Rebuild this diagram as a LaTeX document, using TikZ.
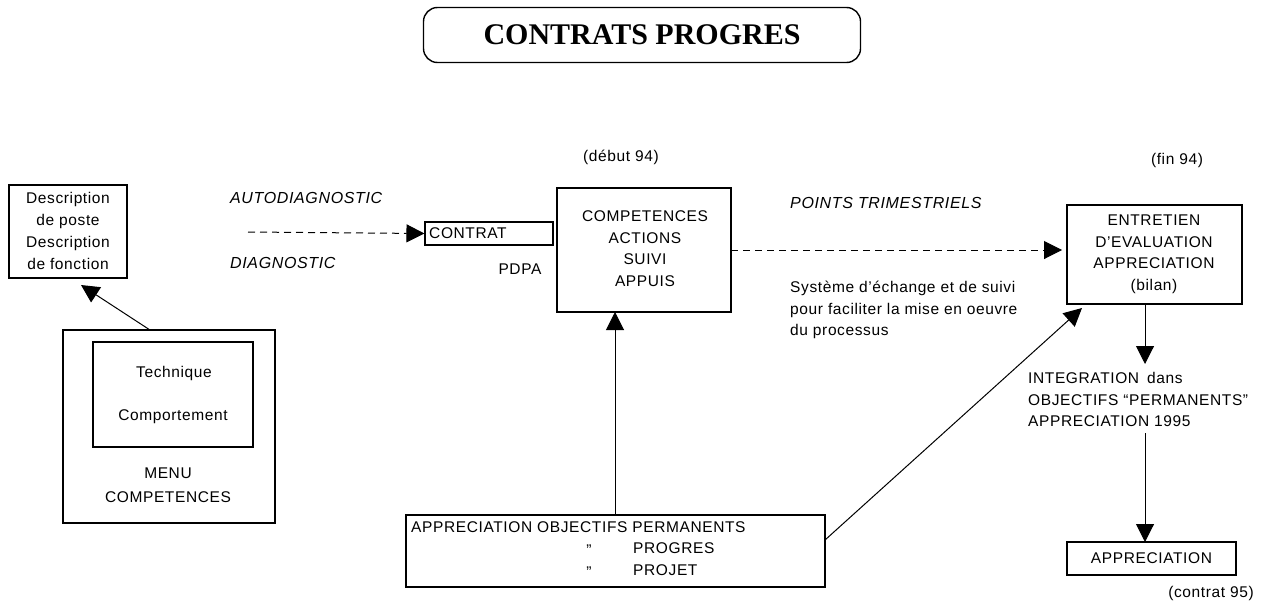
\documentclass[tikz,border=0pt]{standalone}
\usepackage{fontspec}
\setmainfont{Liberation Sans}[LetterSpace=4]
\newfontfamily\titlefont{Liberation Serif}
\usetikzlibrary{arrows.meta}
\tikzset{
  box/.style={draw,line width=1.1pt,inner sep=0pt},
  txt/.style={inner sep=0pt,font=\fontsize{15.5}{21.5}\selectfont,align=center},
  itxt/.style={inner sep=0pt,font=\fontsize{16}{21}\selectfont\itshape},
  conn/.style={line width=1pt,-{Triangle[length=18pt,width=18pt]}},
  dconn/.style={line width=1pt,dash pattern=on 7pt off 5pt,-{Triangle[length=18pt,width=18pt]}}
}
\begin{document}
\begin{tikzpicture}[x=1pt,y=-1pt]
\useasboundingbox (0,0) rectangle (1263,608);
% title
\node[draw,line width=1.4pt,rounded corners=14pt,minimum width=437pt,minimum height=55pt,inner sep=0pt,
  font=\titlefont\fontsize{30}{30}\selectfont\bfseries] (title) at (642,35) {CONTRATS PROGRES};
% description box
\node[box,minimum width=118pt,minimum height=93pt] (desc) at (68,231.5) {};
\node[txt,font=\fontsize{15.5}{21.7}\selectfont] (desct) at (68,231) {Description\\de poste\\Description\\de fonction};
% menu competences
\node[box,minimum width=212pt,minimum height=193pt] (menu) at (169,426.5) {};
\node[box,minimum width=160pt,minimum height=105pt] (menuin) at (173,394.5) {};
\node[txt] (tech) at (174,373) {Technique};
\node[txt] (comport) at (173,417) {Comportement};
\node[txt,font=\fontsize{15.5}{24}\selectfont] (menut) at (168,485) {MENU\\COMPETENCES};
% diagnostics
\node[itxt,anchor=west] (autod) at (230,198) {AUTODIAGNOSTIC};
\node[itxt,anchor=west] (diag) at (230,263) {DIAGNOSTIC};
% contrat
\node[box,minimum width=128pt,minimum height=23pt] (contrat) at (489,233.5) {};
\node[txt,anchor=west] (contratt) at (429,233.5) {CONTRAT};
\node[txt] (pdpa) at (520,269) {PDPA};
% competences
\node[box,minimum width=174pt,minimum height=124pt] (comp) at (644,250) {};
\node[txt] (compt) at (645,248.5) {COMPETENCES\\ACTIONS\\SUIVI\\APPUIS};
\node[txt] (debut) at (621,157) {(début 94)};
% points trimestriels
\node[itxt,anchor=west] (points) at (790,203) {POINTS TRIMESTRIELS};
\node[txt,align=left,anchor=west] (systeme) at (790,310) {Système d'échange et de suivi\\pour faciliter la mise en oeuvre\\du processus};
% entretien
\node[box,minimum width=175pt,minimum height=99pt] (entretien) at (1154.5,254.5) {};
\node[txt] (entt) at (1154,254.5) {ENTRETIEN\\D'EVALUATION\\APPRECIATION\\(bilan)};
\node[txt] (fin) at (1177,160) {(fin 94)};
% integration
\node[txt,align=left,anchor=west] (integ) at (1028,399.5) {INTEGRATION\hspace{8pt}dans\\OBJECTIFS ``PERMANENTS''\\APPRECIATION 1995};
% appreciation
\node[box,minimum width=169pt,minimum height=33pt] (appr) at (1151.5,558.5) {};
\node[txt] (apprt) at (1151.5,558.5) {APPRECIATION};
\node[txt,anchor=east] (c95) at (1254,593) {(contrat 95)};
% bottom box
\node[box,minimum width=419pt,minimum height=72pt] (bottom) at (615.5,551) {};
\node[txt,anchor=west] (b1) at (411,527) {APPRECIATION OBJECTIFS PERMANENTS};
\node[txt] (q1) at (589,550) {''};
\node[txt] (q2) at (589,572) {''};
\node[txt,anchor=west] (b2) at (633,548) {PROGRES};
\node[txt,anchor=west] (b3) at (633,570) {PROJET};
% coordinates
\coordinate (adstart) at (248,232);
\coordinate (menutop) at (150,330);
\coordinate (descbot) at (81,285);
\coordinate (entbot) at (1145,304);
\coordinate (integtop) at (1145,364);
\coordinate (integbot) at (1145,433);
\coordinate (apprtop) at (1145,542);
\coordinate (bottop) at (615,515);
\coordinate (compbot) at (615,312);
\coordinate (botright) at (825,540);
\coordinate (entbl) at (1082,308);
\coordinate (compright) at (731,250);
\coordinate (entleft) at (1062,250);
% connectors
\draw[dconn] (adstart) -- (contrat.west);
\draw[dconn] (compright) -- (entleft);
\draw[conn] (menutop) -- (descbot);
\draw[conn] (entbot) -- (integtop);
\draw[conn] (integbot) -- (apprtop);
\draw[conn] (bottop) -- (compbot);
\draw[conn] (botright) -- (entbl);
\end{tikzpicture}
\end{document}
